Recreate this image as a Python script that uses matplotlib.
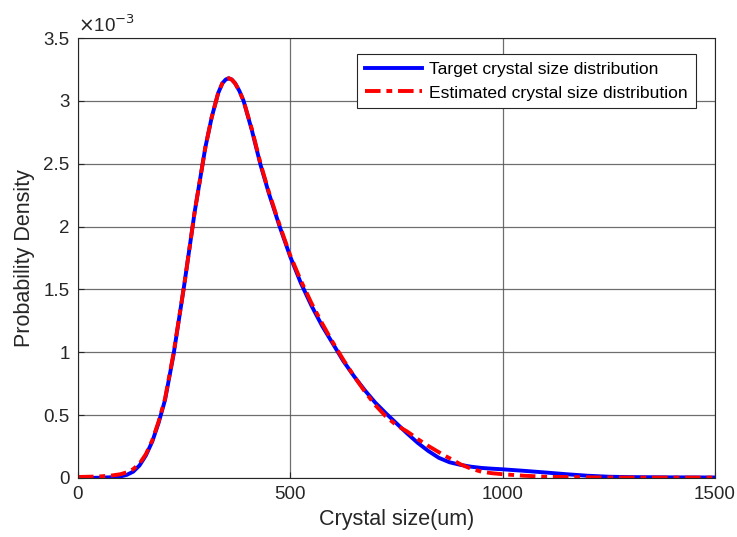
import matplotlib
matplotlib.use("Agg")
import matplotlib.pyplot as plt

plt.rcParams['font.family'] = ['Liberation Sans', 'DejaVu Sans']

x_target = [0, 50, 80, 100, 115, 130, 145, 160, 175, 190, 205, 225, 250, 275, 300,
            315, 330, 340, 348, 355, 362, 370, 380, 390, 410, 430, 450, 475, 500,
            525, 550, 575, 600, 625, 650, 675, 700, 725, 750, 775, 800, 825, 850,
            875, 900, 925, 950, 975, 1000, 1050, 1100, 1150, 1200, 1250, 1300, 1400,
            1500]
y_target = [0.0, 0.002, 0.006, 0.012, 0.025, 0.05, 0.10, 0.18, 0.29, 0.44, 0.62, 0.98,
            1.53, 2.12, 2.63, 2.87, 3.06, 3.14, 3.17, 3.18, 3.17, 3.14, 3.08, 3.0,
            2.76, 2.49, 2.26, 2.0, 1.76, 1.55, 1.37, 1.21, 1.07, 0.93, 0.81, 0.70,
            0.60, 0.515, 0.435, 0.355, 0.28, 0.215, 0.16, 0.125, 0.105, 0.09, 0.08,
            0.074, 0.069, 0.057, 0.044, 0.030, 0.018, 0.010, 0.007, 0.005, 0.004]

x_est = [0, 50, 80, 100, 115, 130, 145, 160, 175, 190, 205, 225, 250, 275, 300,
         315, 330, 340, 348, 355, 362, 370, 380, 390, 410, 430, 450, 475, 500,
         525, 550, 575, 600, 625, 650, 675, 700, 725, 750, 775, 790, 800, 825, 850,
         868, 885, 900, 925, 950, 975, 1000, 1050, 1100, 1200, 1300, 1500]
y_est = [0.008, 0.012, 0.02, 0.03, 0.045, 0.07, 0.115, 0.19, 0.30, 0.45, 0.63, 0.99,
         1.53, 2.12, 2.63, 2.87, 3.06, 3.14, 3.17, 3.18, 3.17, 3.14, 3.08, 3.0,
         2.77, 2.50, 2.27, 2.01, 1.77, 1.57, 1.39, 1.23, 1.08, 0.94, 0.81, 0.69,
         0.58, 0.49, 0.42, 0.37, 0.335, 0.31, 0.255, 0.205, 0.17, 0.14, 0.11, 0.075,
         0.05, 0.038, 0.03, 0.018, 0.010, 0.005, 0.003, 0.003]

scale = 1e-3

fig = plt.figure(figsize=(7.37, 5.37), dpi=100)
ax = fig.add_axes([0.1058, 0.1099, 0.8642, 0.8193])

ax.plot(x_target, [v * scale for v in y_target], color='#0000ff', lw=2.8,
        label='Target crystal size distribution', solid_joinstyle='round')
ax.plot(x_est, [v * scale for v in y_est], color='#ff0000', lw=2.8,
        dashes=(4, 1.5, 1.5, 1.5), label='Estimated crystal size distribution')

ax.set_xlim(0, 1500)
ax.set_ylim(0, 3.5e-3)
ax.set_xticks([0, 500, 1000, 1500])
ax.set_yticks([i * 0.5e-3 for i in range(8)])
ax.set_yticklabels(['0', '0.5', '1', '1.5', '2', '2.5', '3', '3.5'])
ax.tick_params(direction='in', length=4, labelsize=13.5, colors='#262626', pad=6)
ax.grid(True, color='#555555', lw=0.9, alpha=0.85)
for s in ax.spines.values():
    s.set_color('#262626')
    s.set_linewidth(0.8)

ax.set_xlabel('Crystal size(um)', fontsize=15.5, color='#262626', labelpad=4)
ax.set_ylabel('Probability Density', fontsize=15.5, color='#262626', labelpad=6)
ax.text(0.0, 1.005, r'$\times$10$^{-3}$', transform=ax.transAxes, fontsize=13.5,
        color='#262626', ha='left', va='bottom')

leg = ax.legend(loc='upper right', bbox_to_anchor=(0.97, 0.963), fontsize=12.6,
                fancybox=False, framealpha=1, edgecolor='#262626',
                handlelength=3.3, handletextpad=0.4, borderpad=0.45, labelspacing=0.45,
                borderaxespad=0.0)
leg.get_frame().set_linewidth(0.8)

fig.savefig('out.png', dpi=100)
